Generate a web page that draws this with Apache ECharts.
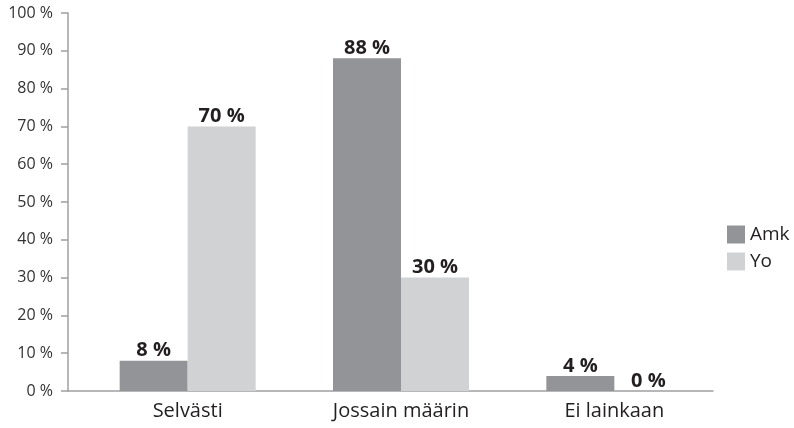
<!DOCTYPE html>
<html>
<head>
<meta charset="utf-8">
<script src="https://cdn.jsdelivr.net/npm/echarts@6/dist/echarts.min.js"></script>
<style>html,body{margin:0;padding:0;background:#fff}#c{width:794px;height:428px}</style>
</head>
<body>
<div id="c"></div>
<script>
const categories = ['Selvästi', 'Jossain määrin', 'Ei lainkaan'];
const amk = [8, 88, 4];
const yo = [70, 30, 0];
const seriesNames = ['Amk', 'Yo'];

const FONT = 'Open Sans';
const chart = echarts.init(document.getElementById('c'), null, {renderer: 'canvas'});
const labelStyle = {
  show: true, position: 'top', distance: 0,
  formatter: p => p.value + ' %',
  fontFamily: FONT, fontWeight: 'bold', fontSize: 20, color: '#231f20'
};
chart.setOption({
  animation: false,
  backgroundColor: '#fff',
  legend: {
    orient: 'vertical', left: 722, top: 220,
    itemWidth: 18, itemHeight: 18, itemGap: 8,
    icon: 'rect',
    textStyle: {fontFamily: FONT, fontSize: 19, color: '#231f20', padding: [0, 0, 0, 0]},
    data: seriesNames
  },
  grid: [
    {left: 68, right: 81, top: 13, bottom: 37},
    {left: 81, right: 73, top: 13, bottom: 37}
  ],
  xAxis: [
    {gridIndex: 0, type: 'category', data: categories,
     axisLine: {lineStyle: {color: '#a0a0a2', width: 1.5}},
     axisTick: {show: false}, axisLabel: {show: false}},
    {gridIndex: 1, type: 'category', data: categories,
     axisLine: {show: false}, axisTick: {show: false},
     axisLabel: {fontFamily: FONT, fontSize: 20, color: '#231f20', margin: 10}}
  ],
  yAxis: [
    {gridIndex: 0, type: 'value', min: 0, max: 100, interval: 10,
     axisLine: {show: true, lineStyle: {color: '#a0a0a2', width: 1.5}},
     axisTick: {show: true, length: 7, lineStyle: {color: '#a0a0a2', width: 1.5}},
     splitLine: {show: false},
     axisLabel: {formatter: '{value} %', fontFamily: FONT, fontSize: 16, color: '#333', margin: 15}},
    {gridIndex: 1, type: 'value', min: 0, max: 100, show: false}
  ],
  series: [
    {name: seriesNames[0], type: 'bar', xAxisIndex: 1, yAxisIndex: 1, data: amk,
     barWidth: 68, barGap: '0%', itemStyle: {color: '#939498'}, label: labelStyle},
    {name: seriesNames[1], type: 'bar', xAxisIndex: 1, yAxisIndex: 1, data: yo,
     barWidth: 68, barGap: '0%', itemStyle: {color: '#d1d2d4'}, label: labelStyle}
  ]
});
</script>
</body>
</html>
